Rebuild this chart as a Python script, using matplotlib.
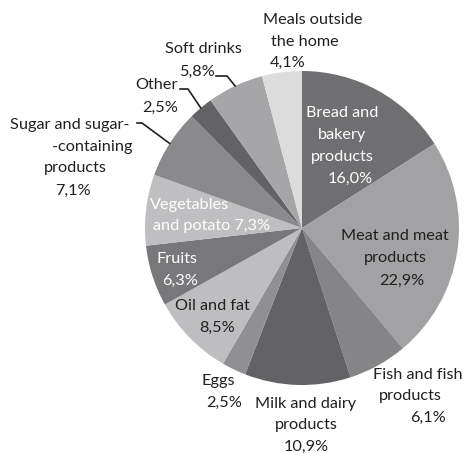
import matplotlib
matplotlib.use("Agg")
import matplotlib.pyplot as plt
import numpy as np

# shares, clockwise from 12 o'clock
categories = ["Bread and bakery products", "Meat and meat products", "Fish and fish products",
              "Milk and dairy products", "Eggs", "Oil and fat", "Fruits", "Vegetables and potato",
              "Sugar and sugar-containing products", "Other", "Soft drinks", "Meals outside the home"]
shares = [16.0, 22.9, 6.1, 10.9, 2.5, 8.5, 6.3, 7.3, 7.1, 2.5, 5.8, 4.1]
colours = ["#6f6f72", "#a2a2a4", "#858587", "#636365", "#909092", "#bebec0",
           "#78787b", "#bfbfc1", "#8a8a8c", "#636366", "#a6a6a8", "#dcdcdd"]

W, H = 468, 453
CX, CY, R = 302, 228, 157   # pie centre / radius in pixels


def fx(x):
    return x / W


def fy(y):
    return 1 - y / H


def pct(v):
    return f"{v:.1f}%".replace(".", ",")


# label text lines: (text, x px, y px, colour)
DARK = "#231f20"
label_lines = [
    ("Meals outside", 313, 20, DARK), ("the home", 305, 42, DARK), (pct(shares[11]), 288, 63, DARK),
    ("Soft drinks", 203, 49, DARK), (pct(shares[10]), 197, 72, DARK),
    ("Other", 156, 85, DARK), (pct(shares[9]), 160, 108, DARK),
    ("Sugar and sugar-", 70, 125, DARK), ("-containing", 92, 147, DARK),
    ("products", 75, 168, DARK), (pct(shares[8]), 73, 191, DARK),
    ("Bread and", 342, 113, "white"), ("bakery", 342, 135, "white"),
    ("products", 342, 157, "white"), (pct(shares[0]), 350, 179, "white"),
    ("Vegetables", 190, 205, "white"), ("and potato " + pct(shares[7]), 212, 226, "white"),
    ("Meat and meat", 395, 236, DARK), ("products", 395, 258, DARK), (pct(shares[1]), 402, 281, DARK),
    ("Fruits", 177, 259, "white"), (pct(shares[6]), 180, 281, "white"),
    ("Oil and fat", 212, 306, DARK), (pct(shares[5]), 217, 328, DARK),
    ("Eggs", 218, 381, DARK), (pct(shares[4]), 224, 403, DARK),
    ("Milk and dairy", 306, 404, DARK), ("products", 306, 425, DARK), (pct(shares[3]), 306, 447, DARK),
    ("Fish and fish", 418, 375, DARK), ("products", 410, 396, DARK), (pct(shares[2]), 428, 418, DARK),
]

# leader lines: wedge index -> (start px, elbow px)
leaders = {10: ((216, 76), (227, 76)), 9: ((180, 89), (188, 89)), 8: ((137, 123), (142, 123))}

plt.rcParams["font.family"] = ["Lato", "DejaVu Sans"]
fig = plt.figure(figsize=(W / 100, H / 100), dpi=100)
ax = fig.add_axes([fx(CX - R), fy(CY + R), 2 * R / W, 2 * R / H])
wedges, _ = ax.pie(shares, colors=colours, startangle=90, counterclock=False, radius=1,
                   wedgeprops=dict(linewidth=0))
ax.set_xlim(-1, 1)
ax.set_ylim(-1, 1)
ax.axis("off")

for txt, x, y, c in label_lines:
    fig.text(fx(x), fy(y), txt, ha="center", va="center", fontsize=11.7, color=c)

for i, (p0, p1) in leaders.items():
    w = wedges[i]
    ang = np.deg2rad((w.theta1 + w.theta2) / 2)
    ex = CX + R * np.cos(ang)
    ey = CY - R * np.sin(ang)
    fig.add_artist(plt.Line2D([fx(p0[0]), fx(p1[0]), fx(ex)], [fy(p0[1]), fy(p1[1]), fy(ey)],
                              color="#231f20", linewidth=1.2, transform=fig.transFigure))

fig.savefig("out.png", dpi=100)
